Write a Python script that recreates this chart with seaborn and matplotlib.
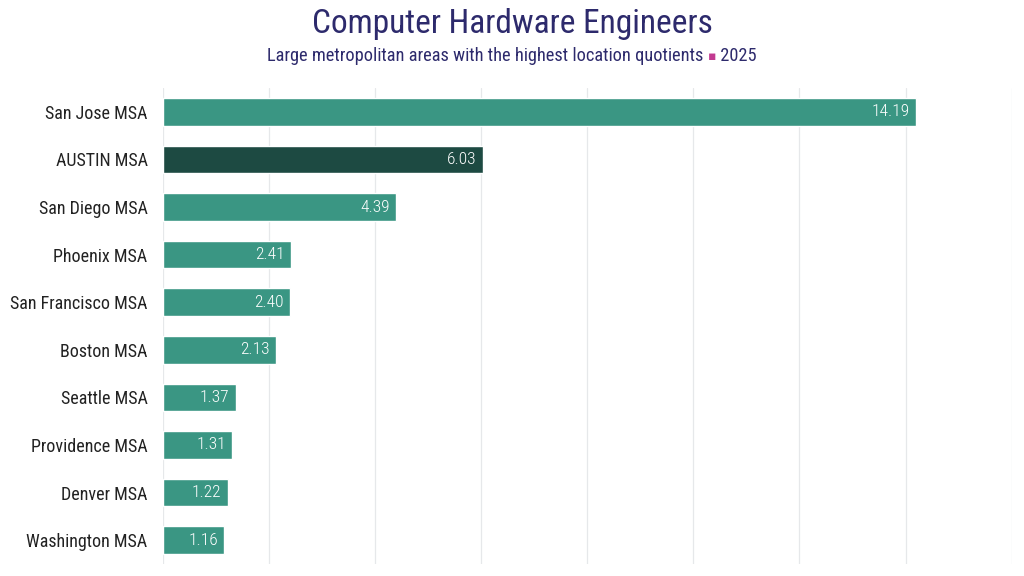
import matplotlib
matplotlib.use("Agg")
import matplotlib.pyplot as plt
import seaborn as sns
import pandas as pd

# data
areas = ["San Jose MSA", "AUSTIN MSA", "San Diego MSA", "Phoenix MSA",
         "San Francisco MSA", "Boston MSA", "Seattle MSA", "Providence MSA",
         "Denver MSA", "Washington MSA"]
quotients = [14.19, 6.03, 4.39, 2.41, 2.40, 2.13, 1.37, 1.31, 1.22, 1.16]
highlight = "AUSTIN MSA"

title = "Computer Hardware Engineers"
subtitle_left = "Large metropolitan areas with the highest location quotients "
subtitle_mark = "\u25aa"
subtitle_right = " 2025"

teal = "#3a9683"
dark = "#1d4a42"
navy = "#2d2a6c"
magenta = "#c23a90"

sns.set_theme(style="white")
plt.rcParams["font.family"] = ["Roboto Condensed", "Liberation Sans Narrow", "Roboto", "DejaVu Sans"]

df = pd.DataFrame({"area": areas, "lq": quotients})
palette = {a: (dark if a == highlight else teal) for a in areas}

fig = plt.figure(figsize=(10.24, 5.76), dpi=100)
fig.patch.set_facecolor("white")
ax = fig.add_axes([0.159, 0.021, 0.829, 0.826])

sns.barplot(data=df, y="area", x="lq", hue="area", palette=palette,
            order=areas, width=0.58, legend=False, ax=ax, saturation=1)

ax.set_xlim(0, 16)
ax.set_xticks(range(0, 17, 2))
ax.xaxis.grid(True, color="#e6e8ea", linewidth=0.9)
ax.set_axisbelow(True)
ax.tick_params(axis="x", length=0, labelbottom=False)
ax.tick_params(axis="y", length=0, pad=11, labelsize=13, labelcolor="#222222")
ax.set_xlabel("")
ax.set_ylabel("")
for s in ax.spines.values():
    s.set_visible(False)

for i, v in enumerate(quotients):
    ax.annotate(f"{v:.2f}", xy=(v, i), xytext=(-4.5, 0), textcoords="offset points",
                ha="right", va="center", color="white", fontsize=12.5,
                fontweight="light")

fig.text(0.5, 0.958, title, ha="center", va="center", fontsize=24, color=navy)

# subtitle with a coloured separator
fig.canvas.draw()
r = fig.canvas.get_renderer()
parts = [(subtitle_left, navy, 13.2), (subtitle_mark, magenta, 9), (subtitle_right, navy, 13.2)]
tmp = [fig.text(0, 0, t, fontsize=s, color=c) for t, c, s in parts]
widths = [t.get_window_extent(r).width for t in tmp]
for t in tmp:
    t.remove()
x = (1024 - sum(widths)) / 2 / 1024
for (t, c, s), w in zip(parts, widths):
    fig.text(x, 0.902, t, ha="left", va="center", fontsize=s, color=c)
    x += w / 1024

fig.savefig("out.png", dpi=100, facecolor="white")
